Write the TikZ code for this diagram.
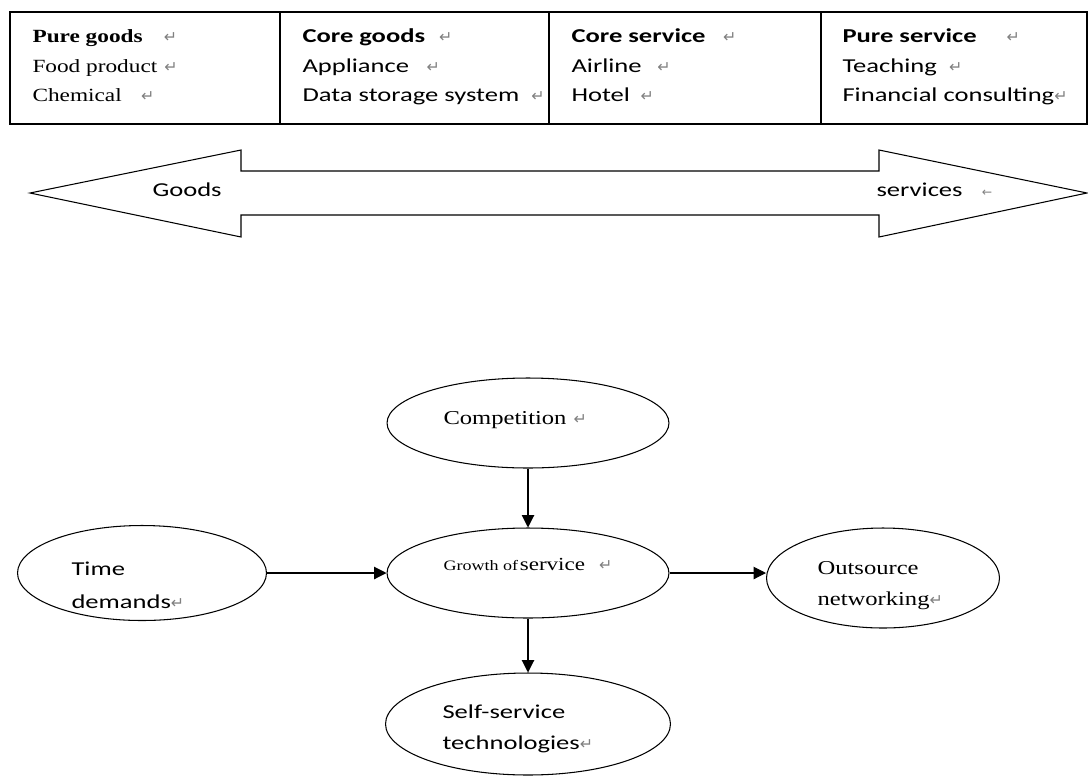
\documentclass[tikz,border=0pt]{standalone}
\usepackage{fontspec}
\setmainfont{Liberation Serif}[FakeStretch=1.25]
\newfontfamily\calfont{Carlito}[FakeStretch=1.35]
\newfontfamily\retfont{DejaVu Sans}
\usetikzlibrary{arrows.meta,shapes.geometric}
% Word paragraph mark after a text
\newcommand{\ret}[1][0pt]{\hspace{#1}{\retfont\fontsize{9}{9}\selectfont\color{gray}↵}}

\tikzset{
  serifcell/.style={anchor=base west,inner sep=0pt,font=\fontsize{10.6}{12}\selectfont},
  sanscell/.style={anchor=base west,inner sep=0pt,font=\calfont\fontsize{11.2}{13}\selectfont},
  seriftext/.style={anchor=base west,inner sep=0pt,font=\fontsize{11.2}{13}\selectfont},
  blob/.style={draw,ellipse,inner sep=0pt},
  flow/.style={-{Triangle[length=7pt,width=7pt]}}
}

\begin{document}
\begin{tikzpicture}[x=0.02cm,y=-0.02cm,line width=0.6pt]
    \useasboundingbox (0,0) rectangle (1088,778);
    % table of goods and services
    \draw[line width=0.8pt] (10,12) rectangle (1087,124);
    \draw[line width=0.8pt] (280,12) -- (280,124);
    \draw[line width=0.8pt] (549,12) -- (549,124);
    \draw[line width=0.8pt] (821,12) -- (821,124);
    \node[serifcell] (puregoods) at (32,42) {\textbf{Pure goods}\ret[12pt]};
    \node[serifcell] (food) at (32,72) {Food product\ret[4pt]};
    \node[serifcell] (chemical) at (32,101.5) {Chemical\ret[11pt]};
    \node[sanscell] (coregoods) at (302,42) {\textbf{Core goods}\ret[8pt]};
    \node[sanscell] (appliance) at (302,72) {Appliance\ret[10pt]};
    \node[sanscell] (storage) at (302,101) {Data storage system\ret[7pt]};
    \node[sanscell] (coreservice) at (571,42) {\textbf{Core service}\ret[10pt]};
    \node[sanscell] (airline) at (571,72) {Airline\ret[9pt]};
    \node[sanscell] (hotel) at (571,101) {Hotel\ret[6pt]};
    \node[sanscell] (pureservice) at (842,42) {\textbf{Pure service}\ret[17pt]};
    \node[sanscell] (teaching) at (842,72) {Teaching\ret[7pt]};
    \node[sanscell] (financial) at (842,101) {Financial consulting\ret};
    % goods -- services double arrow
    \draw (30,193) -- (241,150) -- (241,171) -- (879,171) -- (879,150) -- (1087,193)
      -- (879,237) -- (879,215) -- (241,215) -- (241,237) -- cycle;
    \node[sanscell] (goods) at (152,196) {Goods};
    \node[sanscell] (services) at (876,196) {services\hspace{11pt}{\retfont\fontsize{7}{7}\selectfont\color{gray}←}};
    % drivers of service growth
    \node[blob,minimum width=5.64cm,minimum height=1.8cm] (comp) at (528,423) {};
    \node[blob,minimum width=5.64cm,minimum height=1.8cm] (growth) at (528,573) {};
    \node[blob,minimum width=4.98cm,minimum height=1.9cm] (time) at (142,573) {};
    \node[blob,minimum width=4.66cm,minimum height=2.0cm] (out) at (883,578) {};
    \node[blob,minimum width=5.7cm,minimum height=2.04cm] (self) at (528,724) {};
    \node[seriftext] (comptext) at (443,424) {Competition\ret[4pt]};
    \node[seriftext] (growthtext) at (443,570) {{\fontsize{8.2}{9}\selectfont Growth of}\hspace{1pt}{\fontsize{10.5}{12}\selectfont service}\ret[8pt]};
    \node[sanscell] (timea) at (71,575) {Time};
    \node[sanscell] (timeb) at (71,608) {demands\ret};
    \node[seriftext] (outa) at (817,574) {Outsource};
    \node[seriftext] (outb) at (817,605) {networking\ret};
    \node[sanscell] (selfa) at (442,718) {Self-service};
    \node[sanscell] (selfb) at (442,749) {technologies\ret};
    \draw[flow] (comp) -- (growth);
    \draw[flow] (time) -- (growth);
    \draw[flow] (growth.east) -- (growth.east -| out.west);
    \draw[flow] (growth) -- (self);
\end{tikzpicture}
\end{document}
